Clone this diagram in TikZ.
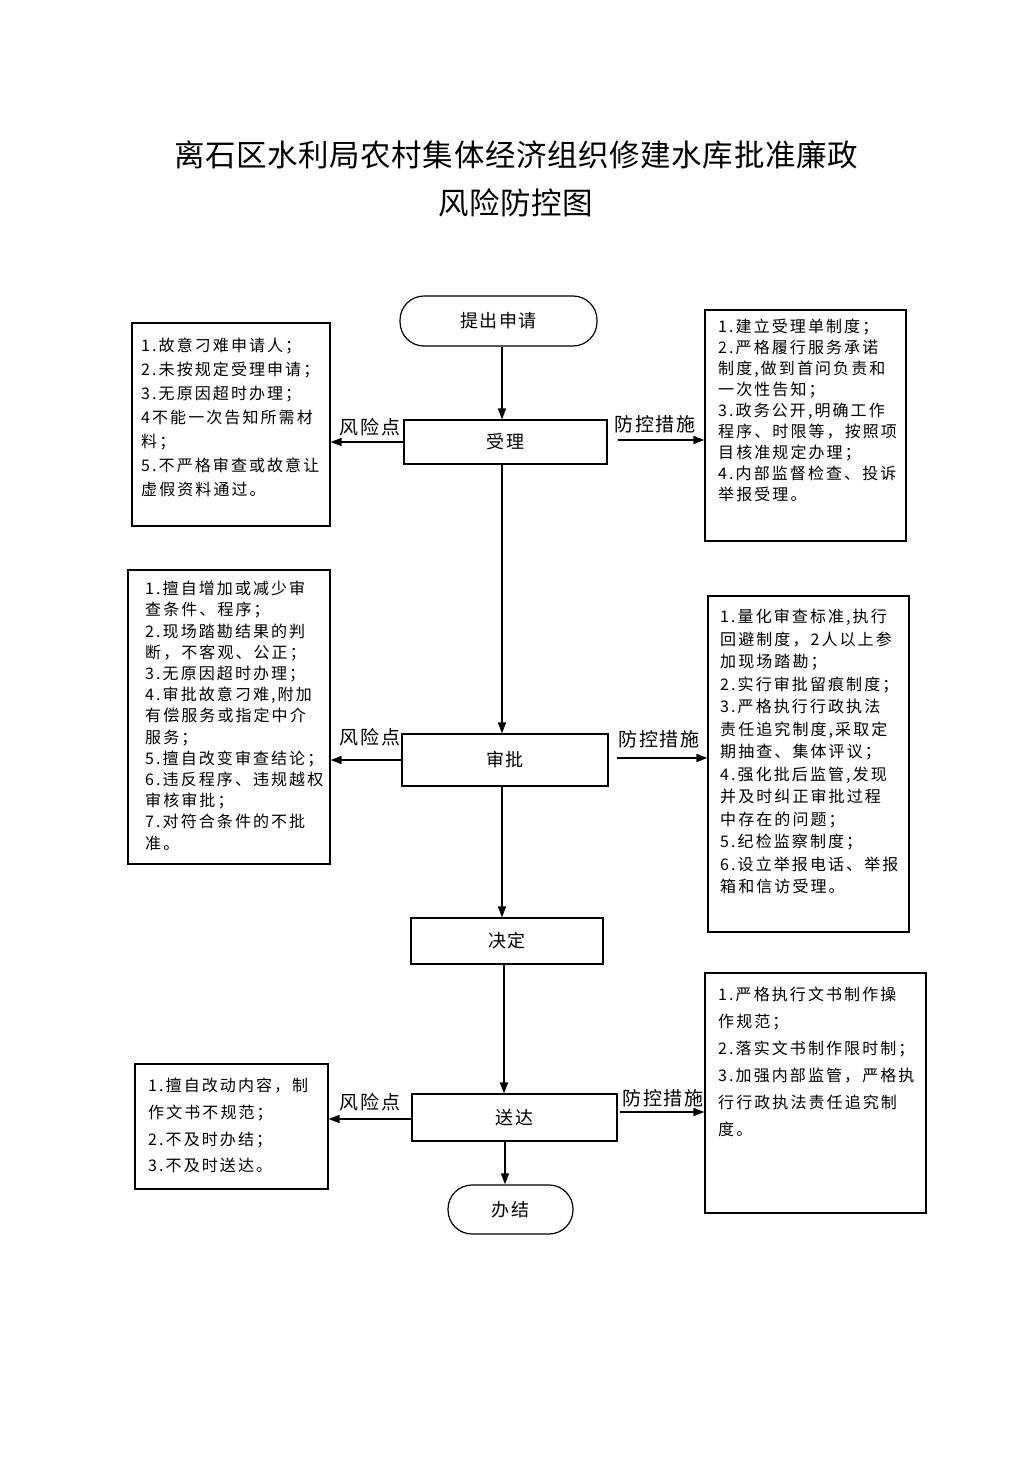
\documentclass[tikz,border=0pt]{standalone}
\usepackage{fontspec}
\newfontfamily\cjk[LetterSpace=9]{Noto Sans CJK SC}
\newfontfamily\cjkside[LetterSpace=13]{Noto Sans CJK SC}
\newfontfamily\cjktitle[LetterSpace=2]{Noto Sans CJK SC}
\usetikzlibrary{arrows.meta}
\tikzset{
  box/.style={draw, line width=1.2pt, inner sep=0pt},
  flowbox/.style={box, font={\cjk\fontsize{18}{22}\selectfont}},
  capsule/.style={flowbox, rounded corners=24pt},
  sidebox/.style={box},
  sidetext/.style={anchor=north west, inner sep=0pt, align=left},
  lab/.style={font={\cjk\fontsize{19}{22}\selectfont}, inner sep=0pt},
  arr/.style={line width=1.6pt, -{Triangle[length=11pt,width=8pt]}},
  ttl/.style={font={\cjktitle\fontsize{30.5}{36}\selectfont}, inner sep=0pt}
}
\begin{document}
\begin{tikzpicture}[x=1pt,y=-1pt]
\useasboundingbox (0,0) rectangle (1033,1461);
\fill[white] (0,0) rectangle (1033,1461);

% title
\node[ttl] (t1) at (516,155) {离石区水利局农村集体经济组织修建水库批准廉政};
\node[ttl] (t2) at (516,203) {风险防控图};

% flow nodes
\node[capsule, minimum width=197pt, minimum height=50pt] (start) at (498.5,321) {提出申请};
\node[flowbox, minimum width=203pt, minimum height=44pt] (sl) at (505.5,442) {受理};
\node[flowbox, minimum width=206pt, minimum height=52pt] (sp) at (505,760) {审批};
\node[flowbox, minimum width=192pt, minimum height=46pt] (jd) at (507,941) {决定};
\node[flowbox, minimum width=205pt, minimum height=47pt] (sd) at (514.5,1117.5) {送达};
\node[capsule, minimum width=125pt, minimum height=49pt] (bj) at (510.5,1209.5) {办结};

% side boxes
\node[sidebox, minimum width=198pt, minimum height=203pt] (L1) at (231,424.5) {};
\node[sidebox, minimum width=201pt, minimum height=231pt] (R1) at (805.5,425.5) {};
\node[sidebox, minimum width=202pt, minimum height=294pt] (L2) at (229,717) {};
\node[sidebox, minimum width=201pt, minimum height=336pt] (R2) at (808.5,764) {};
\node[sidebox, minimum width=193pt, minimum height=125pt] (L3) at (231.5,1126.5) {};
\node[sidebox, minimum width=221pt, minimum height=240pt] (R3) at (815.5,1093) {};

% side texts
\node[sidetext, font={\cjkside\fontsize{16}{24}\selectfont}] (L1t) at (141,338) {1.故意刁难申请人；\\2.未按规定受理申请；\\3.无原因超时办理；\\4不能一次告知所需材\\料；\\5.不严格审查或故意让\\虚假资料通过。};
\node[sidetext, font={\cjkside\fontsize{16}{21}\selectfont}] (R1t) at (718,319) {1.建立受理单制度；\\2.严格履行服务承诺\\制度,做到首问负责和\\一次性告知；\\3.政务公开,明确工作\\程序、时限等，按照项\\目核准规定办理；\\4.内部监督检查、投诉\\举报受理。};
\node[sidetext, font={\cjkside\fontsize{16}{21.2}\selectfont}] (L2t) at (145,581) {1.擅自增加或减少审\\查条件、程序；\\2.现场踏勘结果的判\\断，不客观、公正；\\3.无原因超时办理；\\4.审批故意刁难,附加\\有偿服务或指定中介\\服务；\\5.擅自改变审查结论；\\6.违反程序、违规越权\\审核审批；\\7.对符合条件的不批\\准。};
\node[sidetext, font={\cjkside\fontsize{16}{22.5}\selectfont}] (R2t) at (720,609) {1.量化审查标准,执行\\回避制度，2人以上参\\加现场踏勘；\\2.实行审批留痕制度；\\3.严格执行行政执法\\责任追究制度,采取定\\期抽查、集体评议；\\4.强化批后监管,发现\\并及时纠正审批过程\\中存在的问题；\\5.纪检监察制度；\\6.设立举报电话、举报\\箱和信访受理。};
\node[sidetext, font={\cjkside\fontsize{16}{26.7}\selectfont}] (L3t) at (148,1078) {1.擅自改动内容，制\\作文书不规范；\\2.不及时办结；\\3.不及时送达。};
\node[sidetext, font={\cjkside\fontsize{16}{27}\selectfont}] (R3t) at (718,987) {1.严格执行文书制作操\\作规范；\\2.落实文书制作限时制；\\3.加强内部监管，严格执\\行行政执法责任追究制\\度。};

% vertical flow arrows
\draw[arr] ([xshift=3.5pt]start.south) -- ([xshift=-3.5pt]sl.north);
\draw[arr] ([xshift=-3.5pt]sl.south) -- ([xshift=-3pt]sp.north);
\draw[arr] ([xshift=-3pt]sp.south) -- ([xshift=-5pt]jd.north);
\draw[arr] ([xshift=-3pt]jd.south) -- ([xshift=-10.5pt]sd.north);
\draw[arr] ([xshift=-9.5pt]sd.south) -- ([xshift=-5.5pt]bj.north);

% risk arrows (left)
\draw[arr] (sl.west) -- (sl.west -| L1.east);
\draw[arr] (sp.west) -- (sp.west -| L2.east);
\draw[arr] ([yshift=-1.5pt]sd.west) -- ([yshift=-1.5pt]sd.west -| L3.east);

% control arrows (right)
\draw[arr] ([xshift=10pt,yshift=2pt]sl.east) -- ([yshift=2pt]sl.east -| R1.west);
\draw[arr] ([xshift=8pt,yshift=2pt]sp.east) -- ([yshift=2pt]sp.east -| R2.west);
\draw[arr] ([xshift=2pt,yshift=5.5pt]sd.east) -- ([yshift=5.5pt]sd.east -| R3.west);

% labels
\node[lab] (fx1) at (370,427) {风险点};
\node[lab] (fk1) at (655,424) {防控措施};
\node[lab] (fx2) at (370,737) {风险点};
\node[lab] (fk2) at (659,739) {防控措施};
\node[lab] (fx3) at (370,1102) {风险点};
\node[lab] (fk3) at (663,1098) {防控措施};
\end{tikzpicture}
\end{document}
